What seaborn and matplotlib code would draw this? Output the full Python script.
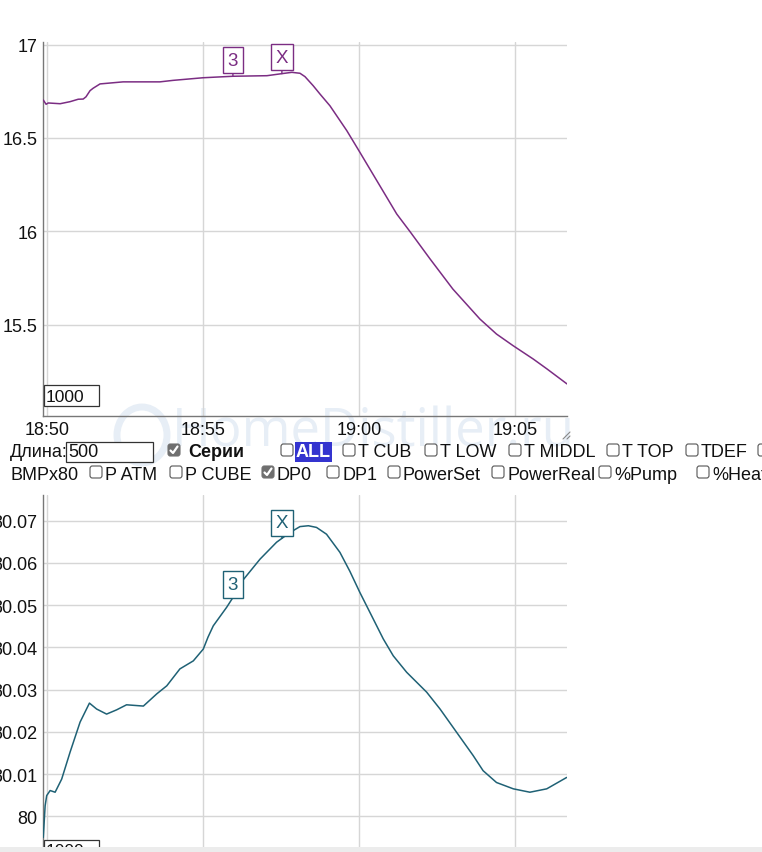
import numpy as np
import pandas as pd
import matplotlib
matplotlib.use("Agg")
import matplotlib.pyplot as plt
from matplotlib.patches import Rectangle, FancyBboxPatch, Circle
from matplotlib.lines import Line2D
from matplotlib.ticker import FuncFormatter
import seaborn as sns

# время в минутах от 18:50
t_top = [-0.12, -0.03, 0.04, 0.42, 0.74, 1.0, 1.16, 1.25, 1.38, 1.48, 1.70, 2.44, 3.62,
         4.04, 5.0, 5.96, 7.05, 7.53, 7.85, 8.11, 8.27, 8.53, 8.75, 9.07, 9.61, 10.03,
         10.67, 11.21, 11.63, 12.28, 13.01, 13.88, 14.41, 14.94, 15.59, 16.03, 16.67]
v_top = [16.703, 16.68, 16.687, 16.683, 16.694, 16.707, 16.708, 16.72, 16.753, 16.766,
         16.789, 16.80, 16.80, 16.808, 16.822, 16.83, 16.833, 16.844, 16.851, 16.846,
         16.828, 16.78, 16.735, 16.672, 16.539, 16.423, 16.244, 16.093, 16.0, 15.852,
         15.691, 15.53, 15.45, 15.388, 15.316, 15.263, 15.183]

t_bot = [-0.12, -0.06, -0.01, 0.10, 0.26, 0.47, 0.74, 1.06, 1.36, 1.59, 1.91, 2.23,
         2.55, 3.09, 3.52, 3.84, 4.26, 4.69, 5.01, 5.16, 5.33, 5.76, 6.03, 6.29, 6.83,
         7.36, 7.79, 8.11, 8.38, 8.64, 8.96, 9.39, 9.71, 10.03, 10.46, 10.78, 11.10,
         11.53, 12.17, 12.60, 13.13, 13.66, 13.98, 14.41, 14.95, 15.48, 16.02, 16.66]
v_bot = [79.995, 80.0025, 80.0049, 80.0061, 80.0057, 80.0088, 80.0152, 80.0223, 80.0268,
         80.0254, 80.0242, 80.0252, 80.0264, 80.0261, 80.029, 80.0309, 80.0349, 80.0368,
         80.0396, 80.0424, 80.0451, 80.0495, 80.0526, 80.056, 80.0609, 80.0649, 80.0672,
         80.0686, 80.0688, 80.0684, 80.0668, 80.0625, 80.058, 80.053, 80.0467, 80.042,
         80.038, 80.0341, 80.0294, 80.0254, 80.0199, 80.0144, 80.0108, 80.008, 80.0065,
         80.0057, 80.0065, 80.0092]

mark_labels = ["3", "X"]
mark_t = [5.96, 7.53]

x_tick_labels = ["18:50", "18:55", "19:00", "19:05"]
top_yticks = [15.5, 16, 16.5, 17]
bot_yticks = [80, 80.01, 80.02, 80.03, 80.04, 80.05, 80.06, 80.07]

row1 = ["T CUB", "T LOW", "T MIDDL", "T TOP", "TDEF", ""]
row1_x = [343, 425, 509, 607, 686, 758]
row2 = ["P ATM", "P CUBE", "DP0", "DP1", "PowerSet", "PowerReal", "%Pump", "%Heat"]
row2_x = [90, 170, 262, 327, 388, 492, 599, 697]
row2_on = [False, False, True, False, False, False, False, False]

base = pd.Timestamp("2024-01-01 18:50")


def to_time(m):
    return base + pd.to_timedelta(np.asarray(m, dtype=float), unit="min")


W, H = 762, 853
sns.set_style("white")
plt.rcParams["font.family"] = ["Liberation Sans", "DejaVu Sans"]
fig = plt.figure(figsize=(W / 100, H / 100), dpi=100)
fig.patch.set_facecolor("white")


def fx(x):
    return x / W


def fy(y):
    return 1 - y / H


# водяной знак
fig.text(fx(172), fy(433), "HomeDistiller.ru", fontsize=38, color="#e7eef6",
         family=["Open Sans", "DejaVu Sans"], va="center", ha="left", zorder=-5)
fig.patches.append(Circle((fx(142), fy(436)), 25 / W, transform=fig.transFigure,
                          fill=False, ec="#e7eef6", lw=5, zorder=-5))

ax1 = fig.add_axes([fx(43.3), fy(416.7), (567 - 43.3) / W, (416.7 - 43) / H])
ax2 = fig.add_axes([fx(43.3), fy(880), (567 - 43.3) / W, (880 - 496) / H])

df_top = pd.DataFrame({"t": to_time(t_top), "v": v_top})
df_bot = pd.DataFrame({"t": to_time(t_bot), "v": v_bot})

series = [
    (ax1, df_top, t_top, v_top, "#7b2d83", top_yticks, (15.0129, 17.0134), [16, 16.5]),
    (ax2, df_bot, t_bot, v_bot, "#1f6175", bot_yticks, (79.98515, 80.07608), [13, 15.5]),
]

xt = to_time([(pd.Timestamp("2024-01-01 " + s) - base).total_seconds() / 60
              for s in x_tick_labels])

for ax, df, tt, vv, col, yt, ylim, offs in series:
    ax.set_facecolor("none")
    sns.lineplot(data=df, x="t", y="v", ax=ax, color=col, lw=1.1, zorder=3)
    ax.set_xlim(to_time([-0.119, 16.67]))
    ax.set_ylim(*ylim)
    ax.set_xticks(xt)
    ax.set_xticklabels(x_tick_labels)
    ax.set_yticks(yt)
    ax.yaxis.set_major_formatter(FuncFormatter(lambda v, p: f"{round(v, 4):g}"))
    ax.grid(True, color="#d6d6d6", lw=1.0)
    ax.tick_params(length=0, labelsize=13, colors="#111111", pad=4)
    ax.set_xlabel("")
    ax.set_ylabel("")
    for s in ["top", "right"]:
        ax.spines[s].set_visible(False)
    for s in ["left", "bottom"]:
        ax.spines[s].set_color("#777777")
        ax.spines[s].set_linewidth(1.0)
    for lab, mt, off in zip(mark_labels, mark_t, offs):
        yv = np.interp(mt, tt, vv)
        ax.annotate(lab, xy=(to_time([mt])[0], yv), xytext=(0, off),
                    textcoords="offset pixels", ha="center", va="center",
                    fontsize=13.5, color=col, zorder=5,
                    bbox=dict(boxstyle="square,pad=0.25", fc="white", ec=col, lw=1.0),
                    arrowprops=dict(arrowstyle="-", color=col, lw=1.0,
                                    shrinkA=0, shrinkB=0))

# у нижнего графика подписи времени за краем экрана
ax2.tick_params(labelbottom=False)

# поля "1000"
for y0 in [386, 841]:
    fig.patches.append(Rectangle((fx(44), fy(y0 + 21)), 55 / W, 21 / H,
                                 transform=fig.transFigure, fc="white",
                                 ec="#333333", lw=0.9, zorder=6))
    fig.text(fx(46), fy(y0 + 11), "1000", fontsize=12.5, va="center", ha="left",
             color="#111111", zorder=7)

# уголок изменения размера
for d in [0, 4]:
    fig.add_artist(Line2D([fx(563 + d), fx(570)], [fy(440), fy(433 + d)],
                          color="#888888", lw=0.8))


def checkbox(x, yc, on=False):
    if on:
        fig.patches.append(FancyBboxPatch((fx(x), fy(yc + 6)), 12 / W, 12 / H,
                                          boxstyle="round,pad=0,rounding_size=0.003",
                                          transform=fig.transFigure, fc="#6f6f6f",
                                          ec="#6f6f6f", lw=0.8, zorder=6))
        fig.add_artist(Line2D([fx(x + 2.5), fx(x + 5), fx(x + 9.5)],
                              [fy(yc + 0.5), fy(yc + 3), fy(yc - 3.5)],
                              color="white", lw=1.6, zorder=7))
    else:
        fig.patches.append(FancyBboxPatch((fx(x), fy(yc + 6)), 12 / W, 12 / H,
                                          boxstyle="round,pad=0,rounding_size=0.003",
                                          transform=fig.transFigure, fc="white",
                                          ec="#555555", lw=0.8, zorder=6))


txt = dict(fontsize=13, va="center", ha="left", color="#111111", zorder=7)

# строка 1
y1 = 453
fig.text(fx(10), fy(y1), "Длина:", **txt)
fig.patches.append(Rectangle((fx(66), fy(463)), 87 / W, 20 / H, transform=fig.transFigure,
                             fc="white", ec="#333333", lw=0.9, zorder=6))
fig.text(fx(68), fy(y1), "500", **txt)
checkbox(168, 451, True)
fig.text(fx(188), fy(y1), "Серии", fontweight="bold", **txt)
checkbox(281, 451)
fig.text(fx(296), fy(y1), "ALL", fontweight="bold", fontsize=13, va="center", ha="left",
         color="white", zorder=7,
         bbox=dict(boxstyle="square,pad=0.08", fc="#3434cf", ec="none"))
for name, x in zip(row1, row1_x):
    checkbox(x, 451)
    fig.text(fx(x + 15), fy(y1), name, **txt)

# строка 2
y2 = 475
fig.text(fx(10), fy(y2), "BMPx80", **txt)
for name, x, on in zip(row2, row2_x, row2_on):
    checkbox(x, 473, on)
    fig.text(fx(x + 15), fy(y2), name, **txt)

# серая полоса внизу
fig.patches.append(Rectangle((0, 0), 1, 5 / H, transform=fig.transFigure,
                             fc="#ececec", ec="none", zorder=10))

fig.savefig("out.png", dpi=100)
